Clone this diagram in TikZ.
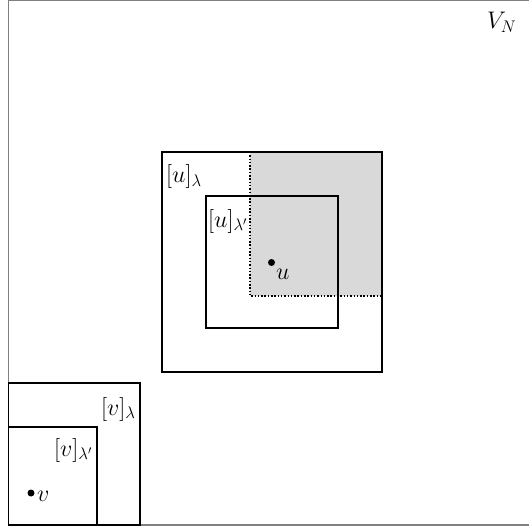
\RequirePackage{fix-cm}
\documentclass[tikz,border=0pt]{standalone}
\begin{document}
\begin{tikzpicture}[x=1pt,y=-1pt,
  box/.style={draw=black,line width=1.5pt},
  outer/.style={draw=black!50,line width=1.5pt},
  dotline/.style={draw=black,line width=1.5pt,dash pattern=on 1.5pt off 1.8pt},
  lab/.style={anchor=base west,inner sep=0pt,font=\fontsize{24}{29}\selectfont},
  dot/.style={fill=black}]
\useasboundingbox (0,0) rectangle (529,529);
\clip (0,0) rectangle (529,529);
% outer set V_N
\draw[outer] (8.5,0.5) rectangle (560,525);
\node[lab] (VN) at (487,29) {$V_N$};
% shaded region
\fill[black!15] (250,152) rectangle (382,296);
\draw[dotline] (250,152) -- (250,296) -- (382,296);
% u squares
\draw[box] (162,152) rectangle (382,372);
\draw[box] (206,196) rectangle (338,328);
\node[lab] (ul) at (166,183) {$[u]_{\lambda}$};
\node[lab] (ulp) at (208,227) {$[u]_{\lambda'}$};
\fill[dot] (271.5,262.5) circle (3.5);
\node[lab] (u) at (276,279) {$u$};
% v squares
\draw[box] (8.5,383) rectangle (140,525);
\draw[box] (8.5,427) rectangle (97,525);
\node[lab] (vl) at (101,415) {$[v]_{\lambda}$};
\node[lab] (vlp) at (54,456) {$[v]_{\lambda'}$};
\fill[dot] (31,493) circle (3.5);
\node[lab] (v) at (37,501) {$v$};
\end{tikzpicture}
\end{document}
